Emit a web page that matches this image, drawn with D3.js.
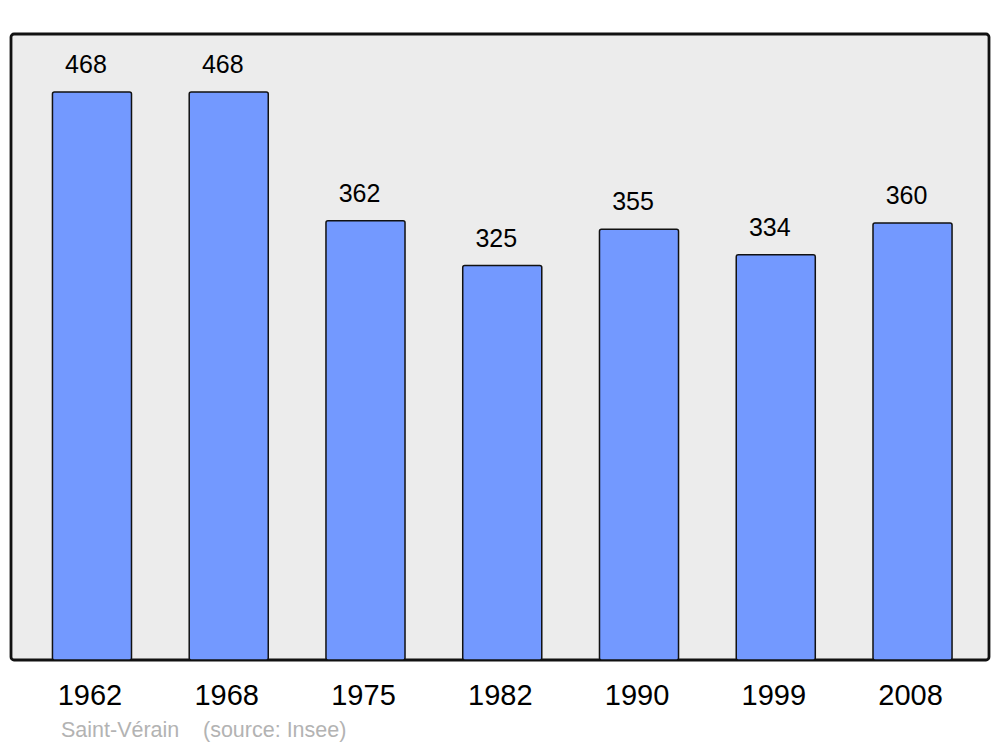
<!DOCTYPE html>
<html>
<head>
<meta charset="utf-8">
<script src="https://cdn.jsdelivr.net/npm/d3@7"></script>
<style>
  body { margin: 0; background: #fff; }
  svg { display: block; font-family: "Liberation Sans", Arial, sans-serif; }
</style>
</head>
<body>
<div class="visHolder"></div>
<script>
const years = ['1962', '1968', '1975', '1982', '1990', '1999', '2008'];
const population = [468, 468, 362, 325, 355, 334, 360];
const commune = 'Saint-Vérain';
const source = '(source: Insee)';

const w = 1000;
const h = 747;

const svg = d3.select('.visHolder').append('svg').attr('width', w).attr('height', h);

// frame
svg.append('rect')
  .attr('x', 11).attr('y', 34)
  .attr('width', 978).attr('height', 626)
  .attr('rx', 3)
  .attr('fill', '#ececec')
  .attr('stroke', '#111')
  .attr('stroke-width', 2.8);

const xScale = d3.scaleBand().domain(years).range([23.6, 980.9]).paddingInner(0.422).paddingOuter(0.211);
const yScale = d3.scaleLinear().domain([0, 468]).range([660, 92]);

// bars
svg.selectAll('rect.bar').data(years).enter().append('rect')
  .attr('class', 'bar')
  .attr('x', d => xScale(d))
  .attr('y', (d, i) => yScale(population[i]))
  .attr('width', xScale.bandwidth())
  .attr('height', (d, i) => yScale(0) - yScale(population[i]))
  .attr('rx', 2)
  .attr('fill', '#7399ff')
  .attr('stroke', '#111')
  .attr('stroke-width', 1.5);

// value labels
svg.selectAll('text.val').data(years).enter().append('text')
  .attr('class', 'val')
  .attr('x', d => xScale(d) + xScale.bandwidth() / 2 - 6)
  .attr('y', (d, i) => yScale(population[i]) - 19)
  .attr('text-anchor', 'middle')
  .attr('font-size', 25)
  .attr('fill', '#000')
  .text((d, i) => population[i]);

// x axis labels
const axis = d3.axisBottom(xScale).tickSize(0).tickPadding(0);
const gx = svg.append('g').attr('transform', 'translate(-2,0)').call(axis);
gx.select('.domain').remove();
gx.selectAll('text')
  .attr('y', 705)
  .attr('dy', null)
  .attr('font-size', 29)
  .attr('font-family', '"Liberation Sans", Arial, sans-serif')
  .attr('fill', '#000');

// footer
svg.append('text').attr('x', 61).attr('y', 737).attr('font-size', 21.5).attr('fill', '#b3b3b3').text(commune);
svg.append('text').attr('x', 203).attr('y', 737).attr('font-size', 21.5).attr('fill', '#b3b3b3').text(source);
</script>
</body>
</html>
